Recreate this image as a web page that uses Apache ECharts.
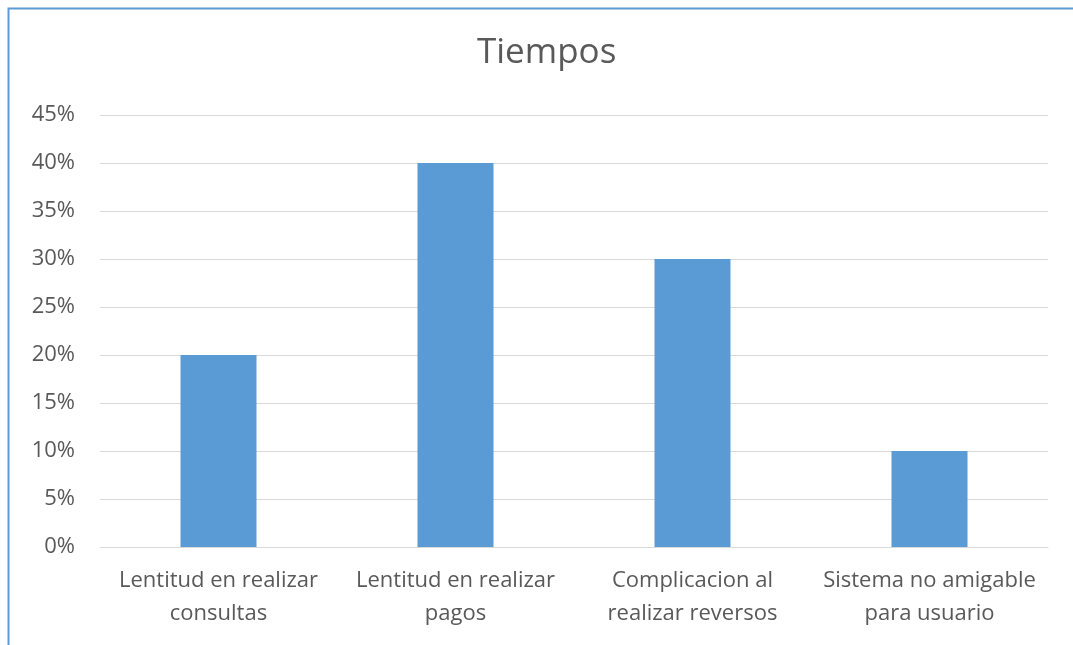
<!DOCTYPE html>
<html>
<head>
<meta charset="utf-8">
<script src="https://cdn.jsdelivr.net/npm/echarts@6/dist/echarts.min.js"></script>
<style>
  html, body { margin: 0; padding: 0; background: #fff; }
  #main { width: 1073px; height: 645px; }
</style>
</head>
<body>
<div id="main"></div>
<script>
const categories = [
  "Lentitud en realizar\nconsultas",
  "Lentitud en realizar\npagos",
  "Complicacion al\nrealizar reversos",
  "Sistema no amigable\npara usuario"
];
const values = [0.20, 0.40, 0.30, 0.10];

const myChart = echarts.init(document.getElementById("main"));

const option = {
  animation: false,
  textStyle: { fontFamily: "Open Sans" },
  title: {
    text: "Tiempos",
    left: 472,
    top: 31,
    textStyle: { fontSize: 35, fontWeight: "normal", color: "#595959", fontFamily: "Open Sans" }
  },
  graphic: [
    {
      type: "rect",
      shape: { x: 8.5, y: 8.5, width: 1100, height: 700 },
      style: { fill: "none", stroke: "#5b9bd5", lineWidth: 2 }
    }
  ],
  grid: { left: 100, right: 25, top: 115, bottom: 98 },
  xAxis: {
    type: "category",
    data: categories,
    axisLine: { lineStyle: { color: "#d9d9d9" } },
    axisTick: { show: false },
    axisLabel: { color: "#595959", fontSize: 22, lineHeight: 33, margin: 17, interval: 0 }
  },
  yAxis: {
    type: "value",
    min: 0,
    max: 0.45,
    interval: 0.05,
    axisLine: { show: false },
    axisTick: { show: false },
    splitLine: { lineStyle: { color: "#d9d9d9" } },
    axisLabel: {
      color: "#595959",
      fontSize: 22,
      margin: 25,
      formatter: (v) => Math.round(v * 100) + "%"
    }
  },
  series: [
    {
      type: "bar",
      data: values,
      barWidth: 76,
      itemStyle: { color: "#5b9bd5" }
    }
  ]
};

option && myChart.setOption(option);
</script>
</body>
</html>
